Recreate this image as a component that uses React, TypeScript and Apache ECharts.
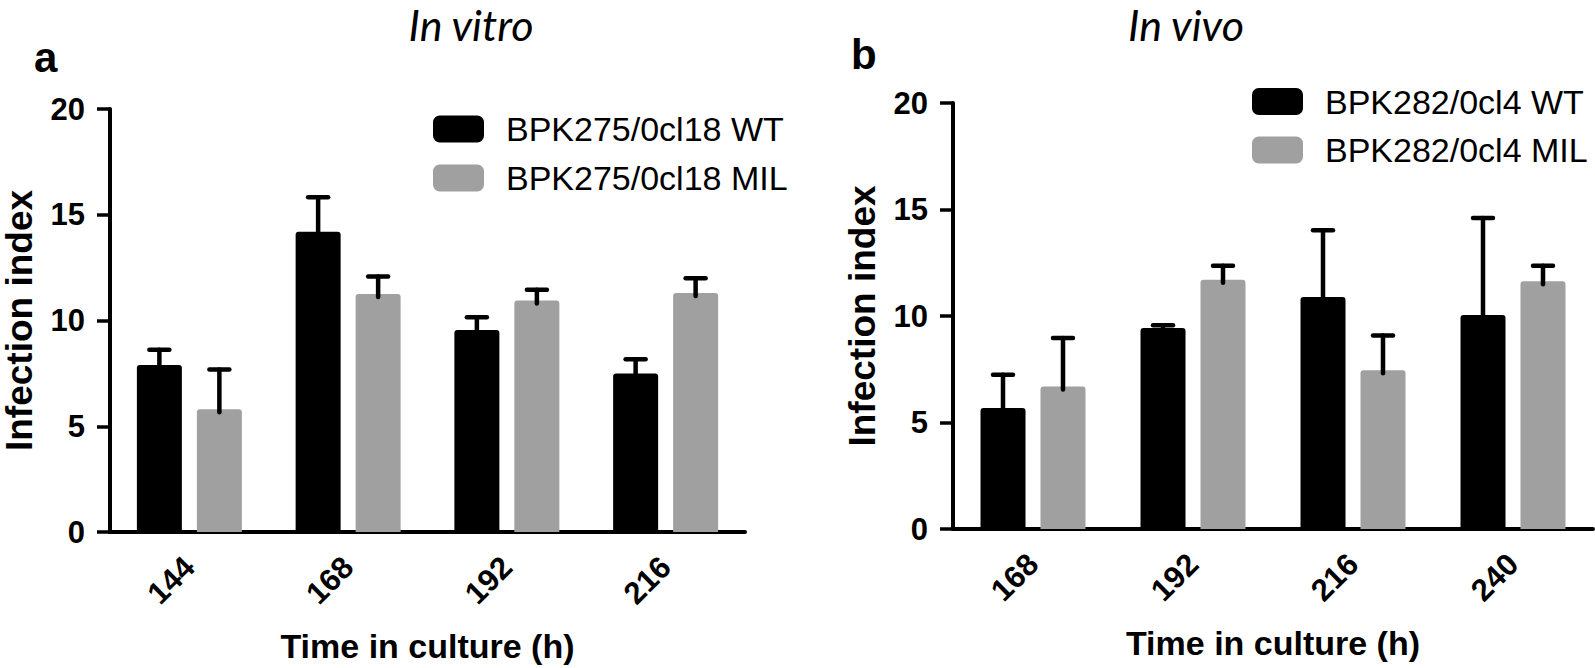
import React, { useEffect, useRef } from "react";
import * as echarts from "echarts";

// ---- data ----
const vitroCategories = ["144", "168", "192", "216"];
const vitroWT = [7.9, 14.2, 9.55, 7.5];
const vitroWTErr = [0.72, 1.63, 0.6, 0.67];
const vitroMIL = [5.8, 11.25, 10.95, 11.3];
const vitroMILErr = [1.88, 0.83, 0.5, 0.7];

const vivoCategories = ["168", "192", "216", "240"];
const vivoWT = [5.68, 9.44, 10.89, 10.05];
const vivoWTErr = [1.56, 0.12, 3.13, 4.55];
const vivoMIL = [6.69, 11.7, 7.45, 11.63];
const vivoMILErr = [2.28, 0.66, 1.63, 0.73];

const yTicks = [0, 5, 10, 15, 20];

const vitroNames = ["BPK275/0cl18 WT", "BPK275/0cl18 MIL"];
const vivoNames = ["BPK282/0cl4 WT", "BPK282/0cl4 MIL"];

const FONT = "'Liberation Sans', Arial, sans-serif";
const BLACK = "#000000";
const GREY = "#a0a0a0";

function errorSeries(xi: number, values: number[], errs: number[], offset: number) {
  return {
    type: "custom",
    xAxisIndex: xi,
    yAxisIndex: xi,
    silent: true,
    z: 10,
    data: values.map((v, i) => [i, v, v + errs[i]]),
    renderItem: (params: any, api: any) => {
      const idx = api.value(0);
      const cx = api.coord([idx, 0])[0] + offset;
      const yTop = api.coord([idx, api.value(2)])[1];
      const yBase = api.coord([idx, api.value(1)])[1];
      const st = { stroke: "#000", lineWidth: 4.5, lineCap: "round" };
      return {
        type: "group",
        children: [
          { type: "line", shape: { x1: cx, y1: yBase + 3, x2: cx, y2: yTop }, style: st },
          { type: "line", shape: { x1: cx - 10, y1: yTop, x2: cx + 10, y2: yTop }, style: st },
        ],
      };
    },
  };
}

function xAxisOpt(gi: number, cats: string[]) {
  return {
    type: "category",
    gridIndex: gi,
    data: cats,
    boundaryGap: true,
    name: "Time in culture (h)",
    nameLocation: "middle",
    nameGap: 97,
    nameTextStyle: { fontFamily: FONT, fontWeight: "bold", fontSize: 34, color: "#000" },
    axisLine: { lineStyle: { color: "#000", width: 4 } },
    axisTick: { alignWithLabel: true, length: 13, lineStyle: { color: "#000", width: 3.5 } },
    axisLabel: { rotate: 45, margin: 30, fontFamily: FONT, fontWeight: "bold", fontSize: 31, color: "#000" },
    splitLine: { show: false },
  };
}

function yAxisOpt(gi: number) {
  return {
    type: "value",
    gridIndex: gi,
    min: yTicks[0],
    max: yTicks[yTicks.length - 1],
    interval: yTicks[1] - yTicks[0],
    name: "Infection index",
    nameLocation: "middle",
    nameRotate: 90,
    nameGap: 72,
    nameTextStyle: { fontFamily: FONT, fontWeight: "bold", fontSize: 37, color: "#000" },
    axisLine: { show: true, lineStyle: { color: "#000", width: 4 } },
    axisTick: { show: true, length: 13, lineStyle: { color: "#000", width: 3.5 } },
    axisLabel: { margin: 25, fontFamily: FONT, fontWeight: "bold", fontSize: 31, color: "#000" },
    splitLine: { show: false },
  };
}

function barSeries(name: string, xi: number, data: number[], color: string) {
  return {
    type: "bar",
    name,
    xAxisIndex: xi,
    yAxisIndex: xi,
    data,
    barWidth: 45,
    barGap: "33.3%",
    itemStyle: { color, borderRadius: [3, 3, 0, 0] },
  };
}

function legendOpt(names: string[], left: number, top: number, gap: number) {
  return {
    orient: "vertical",
    left,
    top,
    padding: 0,
    itemGap: gap,
    itemWidth: 51,
    itemHeight: 27,
    icon: "roundRect",
    data: names,
    selectedMode: false,
    textStyle: { fontFamily: FONT, fontSize: 34, lineHeight: 34, color: "#000", padding: [0, 0, 0, 17] },
  };
}

export default function App() {
  const ref = useRef<HTMLDivElement>(null);
  useEffect(() => {
    if (!ref.current) return;
    const chart = echarts.init(ref.current, undefined, { renderer: "svg" });
    chart.setOption({
      animation: false,
      backgroundColor: "#ffffff",
      grid: [
        { left: 106, top: 109, width: 639, height: 424 },
        { left: 953, top: 103, width: 640, height: 426 },
      ],
      xAxis: [xAxisOpt(0, vitroCategories), xAxisOpt(1, vivoCategories)],
      yAxis: [yAxisOpt(0), yAxisOpt(1)],
      legend: [legendOpt(vitroNames, 433, 112, 15), legendOpt(vivoNames, 1252, 84.5, 14.5)],
      series: [
        barSeries(vitroNames[0], 0, vitroWT, BLACK),
        barSeries(vitroNames[1], 0, vitroMIL, GREY),
        errorSeries(0, vitroWT, vitroWTErr, -30),
        errorSeries(0, vitroMIL, vitroMILErr, 30),
        barSeries(vivoNames[0], 1, vivoWT, BLACK),
        barSeries(vivoNames[1], 1, vivoMIL, GREY),
        errorSeries(1, vivoWT, vivoWTErr, -30),
        errorSeries(1, vivoMIL, vivoMILErr, 30),
      ],
      graphic: [
        { type: "text", left: 34, top: 36, style: { text: "a", fontFamily: FONT, fontWeight: "bold", fontSize: 42, fill: "#000" } },
        { type: "text", left: 851, top: 33, style: { text: "b", fontFamily: FONT, fontWeight: "bold", fontSize: 42, fill: "#000" } },
        { type: "text", x: 471, y: 24, style: { text: "In vitro", fontFamily: "Lato, 'Open Sans', sans-serif", fontStyle: "italic", fontSize: 43, fill: "#000", align: "center", verticalAlign: "middle" } },
        { type: "text", x: 1186, y: 24, style: { text: "In vivo", fontFamily: "Lato, 'Open Sans', sans-serif", fontStyle: "italic", fontSize: 43, fill: "#000", align: "center", verticalAlign: "middle" } },
      ],
    });
    return () => chart.dispose();
  }, []);
  return (
    <div
      ref={ref}
      style={{ position: "absolute", left: 0, top: 0, width: 1595, height: 668, background: "#fff" }}
    />
  );
}
